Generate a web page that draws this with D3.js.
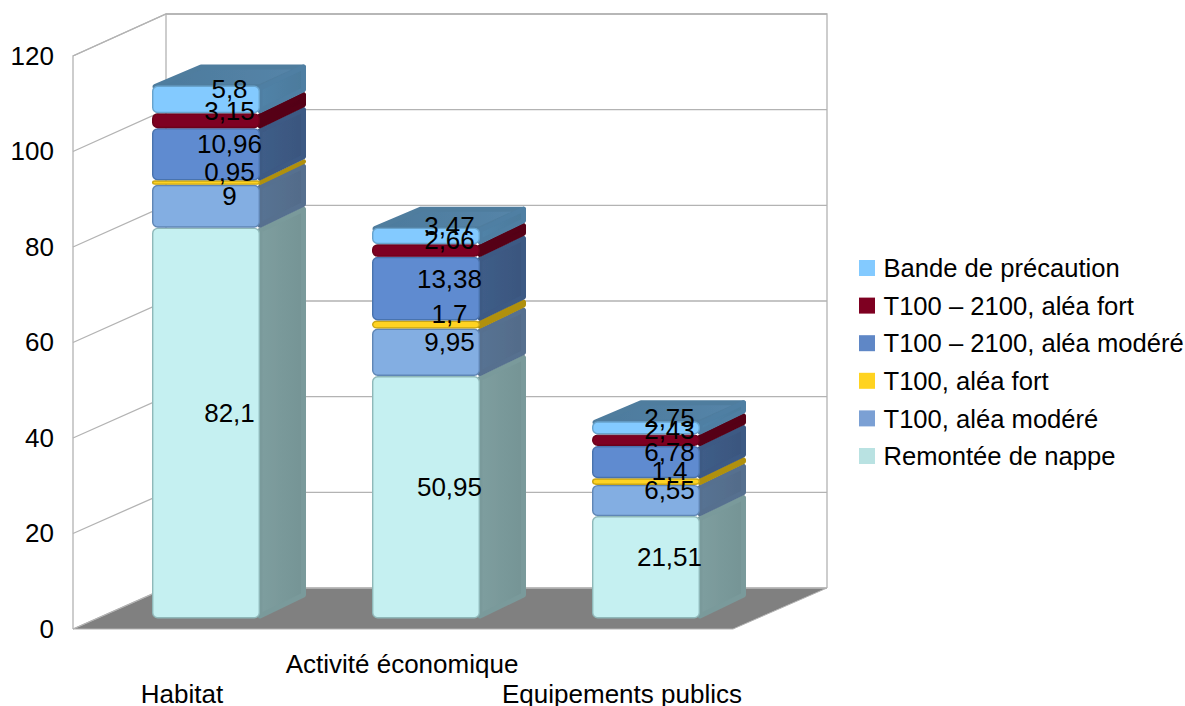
<!DOCTYPE html>
<html><head><meta charset="utf-8">
<script src="https://cdn.jsdelivr.net/npm/d3@7"></script>
<style>html,body{margin:0;padding:0;background:#fff}svg{display:block}text{font-family:"Liberation Sans",Arial,sans-serif;fill:#000}</style>
</head><body><svg id="c" width="1185" height="706"></svg>
<script>
const categories = ["Habitat", "Activité économique", "Equipements publics"];
const seriesNames = ["Remontée de nappe", "T100, aléa modéré", "T100, aléa fort", "T100 – 2100, aléa modéré", "T100 – 2100, aléa fort", "Bande de précaution"];
const remontee = [82.1, 50.95, 21.51];
const t100Modere = [9, 9.95, 6.55];
const t100Fort = [0.95, 1.7, 1.4];
const t2100Modere = [10.96, 13.38, 6.78];
const t2100Fort = [3.15, 2.66, 2.43];
const bande = [5.8, 3.47, 2.75];
const seriesValues = [remontee, t100Modere, t100Fort, t2100Modere, t2100Fort, bande];
const tickValues = [0, 20, 40, 60, 80, 100, 120];
const frontColors = ["#c5f0f1", "#83aee2", "#ffd320", "#5f8bd0", "#7e0021", "#83caff"];
const sideColors = ["#7a9a9b", "#56708f", "#b0900f", "#3d5a84", "#560016", "#4f7fa3"];
const legendColors = ["#b9e2e2", "#7ba0d4", "#ffd320", "#5f87c6", "#7e0021", "#83caff"];
const frontEdge = ["#8fb8b9", "#5f86b5", "#c9a615", "#4a73ad", "#6a001b", "#68a3cc"];

const svg = d3.select("#c");
const defs = svg.append("defs");
const soft = defs.append("filter").attr("id","soft").attr("x","-5%").attr("y","-5%").attr("width","110%").attr("height","110%");
soft.append("feGaussianBlur").attr("stdDeviation",0.75);
sideColors.forEach((c,i)=>{
  const g = defs.append("linearGradient").attr("id","side"+i).attr("x1",0).attr("x2",1).attr("y1",0).attr("y2",0);
  g.append("stop").attr("offset",0).attr("stop-color",d3.color(c).brighter(0.08));
  g.append("stop").attr("offset",1).attr("stop-color",d3.color(c).darker(0.12));
});
const tg = defs.append("linearGradient").attr("id","topg").attr("x1",0).attr("x2",1).attr("y1",0).attr("y2",0);
tg.append("stop").attr("offset",0).attr("stop-color","#4d7a9c");
tg.append("stop").attr("offset",1).attr("stop-color","#5585a9");

// plot geometry
const barDepth = {dx: 46, dy: -21};
const frontWidth = 108;
const yFront = d3.scaleLinear().domain([0,120]).range([629,56]);
const yBack = d3.scaleLinear().domain([0,120]).range([588,14]);
const yBar = d3.scaleLinear().domain([0,120]).range([618.5,618.5-4.76*120]);
const xBand = d3.scaleBand().domain(categories).range([119,779]);
const wallLeft = 73, wallBack = 166, wallRight = 827, floorRight = 733;
const grid = "#b3b3b3";

// floor
svg.append("polygon").attr("points",[[wallLeft,yFront(0)],[wallBack,yBack(0)],[wallRight,yBack(0)],[floorRight,yFront(0)]].join(" "))
  .attr("fill","#808080").attr("stroke",grid).attr("stroke-width",1);
// walls
svg.append("path").attr("fill","none").attr("stroke",grid).attr("stroke-width",1.3)
  .attr("d",`M${wallLeft},${yFront(0)}V${yFront(120)}L${wallBack},${yBack(120)}V${yBack(0)}M${wallBack},${yBack(120)}H${wallRight}V${yBack(0)}`);
svg.selectAll("path.g").data(tickValues).join("path").attr("class","g").attr("fill","none").attr("stroke",grid).attr("stroke-width",1.3)
  .attr("d",d=>`M${wallLeft},${yFront(d)}L${wallBack},${yBack(d)}H${wallRight}`);

// y axis labels
const axisG = svg.append("g").attr("transform",`translate(${wallLeft},0)`)
  .call(d3.axisLeft(yFront).tickValues(tickValues).tickSize(0).tickPadding(19));
axisG.select(".domain").remove();
axisG.selectAll("text").style("font-size","26px").attr("font-family",null);

// bars
const stackByCat = categories.map((c,ci)=>{
  let acc = 0;
  return seriesValues.map((vals,si)=>{const v=vals[ci]; const d={c,ci,si,v,y0:acc,y1:acc+v}; acc+=v; return d;});
});
const barsG = svg.append("g");
const labelsG = svg.append("g");
const inset = 2.5;
stackByCat.forEach(stack=>{
  const g = barsG.append("g").attr("filter","url(#soft)");
  const cx = xBand(stack[0].c)+xBand.bandwidth()/2;
  const x0 = cx-(frontWidth+barDepth.dx)/2, x1 = x0+frontWidth;
  stack.forEach((d,i)=>{
    const yt = yBar(d.y1), yb = yBar(d.y0);
    const ins = Math.min(inset,(yb-yt)/2-0.2);
    if(i===stack.length-1){
      g.append("polygon")
        .attr("points",[[x0+3,yt+1],[x0+barDepth.dx+3,yt+barDepth.dy+ins],[x1+barDepth.dx-ins,yt+barDepth.dy+ins],[x1,yt+1]].join(" "))
        .attr("fill","url(#topg)").attr("stroke","#507d9e").attr("stroke-width",5).attr("stroke-linejoin","round");
    }
    g.append("polygon")
      .attr("points",[[x1,yt+ins],[x1+barDepth.dx-ins,yt+barDepth.dy+ins],[x1+barDepth.dx-ins,yb+barDepth.dy-ins],[x1,yb-ins]].join(" "))
      .attr("fill",`url(#side${d.si})`).attr("stroke",sideColors[d.si]).attr("stroke-width",2*ins).attr("stroke-linejoin","round");
    g.append("rect").attr("x",x0+0.7).attr("y",yt+0.7).attr("width",frontWidth-1.4).attr("height",Math.max(yb-yt-1.4,1))
      .attr("rx",Math.min(5,(yb-yt)/2)).attr("fill",frontColors[d.si]).attr("stroke",frontEdge[d.si]).attr("stroke-width",1.4);
    labelsG.append("text").attr("x",cx+0.5).attr("y",(yt+yb)/2+barDepth.dy/2).attr("dy","0.36em")
      .attr("text-anchor","middle").style("font-size","26px").text(String(d.v).replace(".",","));
  });
});

// category labels
const labelX = c => xBand(c)+xBand.bandwidth()/2-47;
svg.selectAll("text.cat").data(categories).join("text").attr("class","cat")
  .attr("x",labelX).attr("y",(d,i)=>i%2?673:703).attr("text-anchor","middle").style("font-size","26px").text(d=>d);

// legend
const legY = d3.scalePoint().domain(d3.reverse(seriesNames)).range([268,456]);
const leg = svg.selectAll("g.leg").data(seriesNames).join("g").attr("class","leg").attr("transform",d=>`translate(859,${legY(d)})`);
leg.append("rect").attr("x",0).attr("y",-8).attr("width",16).attr("height",16).attr("fill",(d,i)=>legendColors[i]);
leg.append("text").attr("x",24.5).attr("dy","0.36em").style("font-size","25.6px").text(d=>d);
</script></body></html>
